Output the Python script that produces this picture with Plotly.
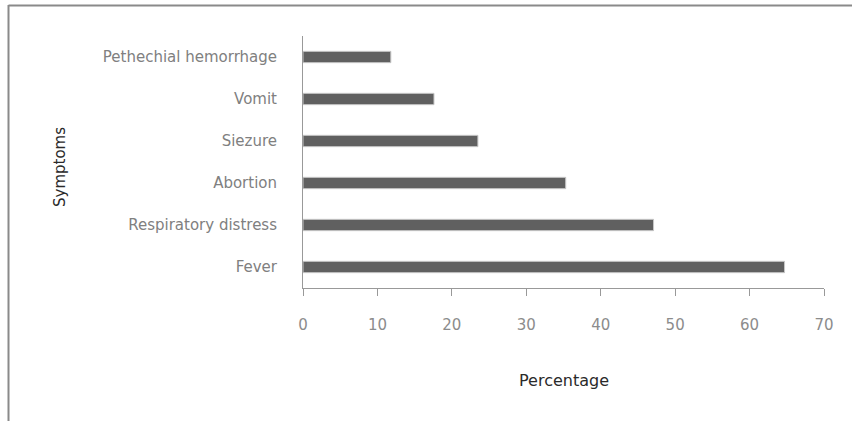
import plotly.graph_objects as go

symptoms = ["Fever", "Respiratory distress", "Abortion", "Siezure", "Vomit", "Pethechial hemorrhage"]
percentages = [64.7, 47.1, 35.3, 23.5, 17.6, 11.8]
x_ticks = [0, 10, 20, 30, 40, 50, 60, 70]

W, H = 852, 421
ML, MR, MT, MB = 303, 28, 36, 133
pw = W - ML - MR
ph = H - MT - MB

def px_x(p):
    return (p - ML) / pw

def px_y(p):
    return (H - MB - p) / ph

fig = go.Figure(go.Bar(
    x=percentages, y=symptoms, orientation="h",
    marker=dict(color="#606060", line=dict(color="#c8c8c8", width=1)),
    width=0.27,
))

font_fam = "DejaVu Sans, sans-serif"

fig.update_layout(
    width=W, height=H,
    margin=dict(l=ML, r=MR, t=MT, b=MB, pad=0),
    paper_bgcolor="white", plot_bgcolor="white",
    showlegend=False,
    font=dict(family=font_fam, size=15, color="#808080"),
    xaxis=dict(
        range=[0, 70], tickvals=x_ticks, showgrid=False, zeroline=False,
        showline=True, linecolor="#999999", linewidth=1,
        ticks="outside", ticklen=7, tickcolor="#999999",
        ticklabelstandoff=16,
        tickfont=dict(size=15, color="#8c8c8c"),
    ),
    yaxis=dict(
        range=[-0.5, 5.5], showgrid=False, zeroline=False,
        showline=True, linecolor="#999999", linewidth=1,
        ticks="", ticklabelstandoff=22,
        tickfont=dict(size=15, color="#808080"),
    ),
    annotations=[
        dict(text="Percentage", xref="paper", yref="paper",
             x=0.5, y=px_y(380), xanchor="center", yanchor="middle",
             showarrow=False,
             font=dict(size=16, color="#2a2a2a", family=font_fam)),
        dict(text="Symptoms", xref="paper", yref="paper",
             x=px_x(60), y=px_y(167), xanchor="center", yanchor="middle",
             showarrow=False, textangle=-90,
             font=dict(size=15, color="#2a2a2a", family=font_fam)),
    ],
    shapes=[
        dict(type="line", xref="paper", yref="paper",
             x0=px_x(8.5), x1=px_x(852), y0=px_y(5.5), y1=px_y(5.5),
             line=dict(color="#8a8a8a", width=2)),
        dict(type="line", xref="paper", yref="paper",
             x0=px_x(8.5), x1=px_x(8.5), y0=px_y(5), y1=px_y(421),
             line=dict(color="#8a8a8a", width=2)),
    ],
)

fig.write_html("out.html", config={"displayModeBar": False},
               post_script="document.body.style.margin='0';")
